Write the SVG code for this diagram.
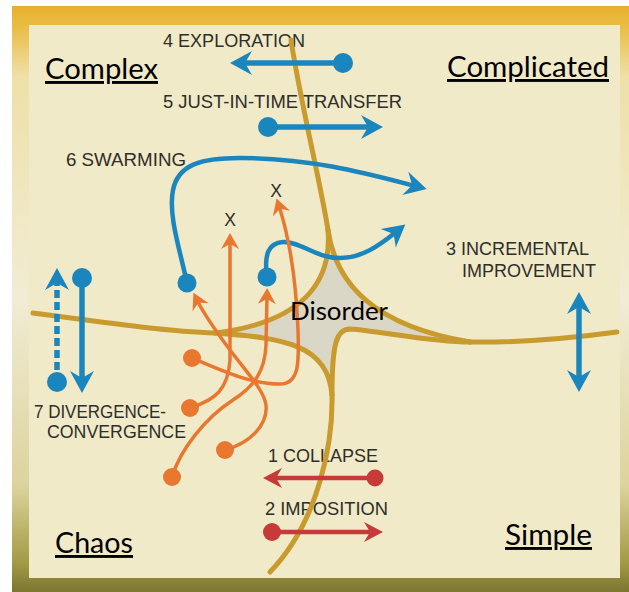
<svg xmlns="http://www.w3.org/2000/svg" width="629" height="592" viewBox="0 0 629 592">
  <style>
    .boundary { fill: none; stroke: #c99a2e; stroke-width: 5; stroke-linecap: round; }
    .blue { fill: none; stroke: #1b86bd; stroke-width: 5.5; }
    .blue-curve { fill: none; stroke: #1b86bd; stroke-width: 4.5; stroke-linecap: round; }
    .red { fill: none; stroke: #c73a3a; stroke-width: 4.5; }
    .orange { fill: none; stroke: #e8772f; stroke-width: 3.5; stroke-linecap: round; }
    .dot-blue { fill: #1b86bd; }
    .dot-red { fill: #c73a3a; }
    .dot-orange { fill: #e8772f; }
    .label { font-family: "Liberation Sans", Arial, sans-serif; font-size: 17.5px; fill: #2e2e2a; }
    .domain { font-family: Lato, "Open Sans", sans-serif; font-size: 29px; fill: #000; text-decoration: underline; }
    .center { font-family: Lato, "Open Sans", sans-serif; font-size: 25px; fill: #000; }
  </style>
  <defs>
    <linearGradient id="frameGrad" gradientUnits="userSpaceOnUse" x1="0" y1="6" x2="0" y2="592">
      <stop offset="0" stop-color="#e7b02c"/>
      <stop offset="0.035" stop-color="#eabc44"/>
      <stop offset="0.12" stop-color="#efe0a8"/>
      <stop offset="0.5" stop-color="#f1ecd4"/>
      <stop offset="0.82" stop-color="#dcd39c"/>
      <stop offset="0.95" stop-color="#a39a45"/>
      <stop offset="1" stop-color="#7b7631"/>
    </linearGradient>
    <marker id="headBlue" viewBox="-24 -13 26 26" refX="-12" refY="0" markerWidth="26" markerHeight="26" markerUnits="userSpaceOnUse" orient="auto-start-reverse">
      <path d="M0,0 L-22,-12 L-15,0 L-22,12 Z" fill="#1b86bd"/>
    </marker>
    <marker id="headRed" viewBox="-21 -11 23 22" refX="-10" refY="0" markerWidth="23" markerHeight="22" markerUnits="userSpaceOnUse" orient="auto">
      <path d="M0,0 L-19,-10 L-13,0 L-19,10 Z" fill="#c73a3a"/>
    </marker>
    <marker id="headOrange" viewBox="-18 -10 20 20" refX="-8" refY="0" markerWidth="20" markerHeight="20" markerUnits="userSpaceOnUse" orient="auto">
      <path d="M0,0 L-16,-9 L-11,0 L-16,9 Z" fill="#e8772f"/>
    </marker>
  </defs>

  <!-- frame and panel -->
  <g id="frame">
    <rect x="0" y="0" width="629" height="592" fill="#ffffff"/>
    <rect x="12" y="6" width="617" height="586" fill="url(#frameGrad)"/>
    <rect x="29" y="25" width="591" height="553" fill="#f0eac8"/>
  </g>

  <!-- small pattern labels -->
  <g id="labels">
    <text class="label" x="163" y="47" textLength="142" lengthAdjust="spacingAndGlyphs">4 EXPLORATION</text>
    <text class="label" x="163" y="108" textLength="239" lengthAdjust="spacingAndGlyphs">5 JUST-IN-TIME TRANSFER</text>
    <text class="label" x="66" y="166" textLength="120" lengthAdjust="spacingAndGlyphs">6 SWARMING</text>
    <text class="label" x="446" y="255" textLength="143" lengthAdjust="spacingAndGlyphs">3 INCREMENTAL</text>
    <text class="label" x="462" y="277" textLength="134" lengthAdjust="spacingAndGlyphs">IMPROVEMENT</text>
    <text class="label" x="34" y="418" textLength="132" lengthAdjust="spacingAndGlyphs">7 DIVERGENCE-</text>
    <text class="label" x="47" y="438" textLength="139" lengthAdjust="spacingAndGlyphs">CONVERGENCE</text>
    <text class="label" x="268" y="462" textLength="110" lengthAdjust="spacingAndGlyphs">1 COLLAPSE</text>
    <text class="label" x="265" y="515" textLength="123" lengthAdjust="spacingAndGlyphs">2 IMPOSITION</text>
    <text class="label" x="230" y="226" text-anchor="middle">X</text>
    <text class="label" x="276" y="197" text-anchor="middle">X</text>
  </g>

  <!-- domain boundaries and the central disorder region -->
  <g id="disorder-region">
    <path d="M328,230 C332,280 305,322 215,333 C285,338 328,345 332,395 C332,345 336,329 350,329 C380,331 430,342 470,342 C375,326 336,285 328,230 Z" fill="#dad7c6"/>
  </g>
  <g id="boundaries">
    <path class="boundary" d="M291,40 C300,100 320,180 328,230"/>
    <path class="boundary" d="M33,313 C100,322 170,332 215,333"/>
    <path class="boundary" d="M617,332 C580,337 530,343 470,342"/>
    <path class="boundary" d="M332,395 C333,440 320,520 270,572"/>
    <path class="boundary" d="M328,230 C332,280 305,322 215,333"/>
    <path class="boundary" d="M328,230 C336,285 375,326 470,342"/>
    <path class="boundary" d="M215,333 C285,338 328,345 332,395"/>
    <path class="boundary" d="M470,342 C430,342 380,331 350,329 C336,329 332,345 332,395"/>
  </g>

  <!-- movement patterns between domains -->
  <g id="connectors">
    <g id="p4-exploration">
      <line class="blue" x1="343" y1="63" x2="242" y2="63" marker-end="url(#headBlue)"/>
      <circle class="dot-blue" cx="343" cy="63" r="10"/>
    </g>
    <g id="p5-just-in-time-transfer">
      <line class="blue" x1="268" y1="127" x2="371" y2="127" marker-end="url(#headBlue)"/>
      <circle class="dot-blue" cx="268" cy="127" r="10"/>
    </g>
    <g id="p3-incremental-improvement">
      <line class="blue" x1="579" y1="304" x2="579" y2="380" marker-start="url(#headBlue)" marker-end="url(#headBlue)"/>
    </g>
    <g id="p7-divergence-convergence">
      <line class="blue" x1="57" y1="382" x2="57" y2="280" stroke-dasharray="8 4" marker-end="url(#headBlue)"/>
      <circle class="dot-blue" cx="57" cy="382" r="10"/>
      <line class="blue" x1="82" y1="278" x2="82" y2="381" marker-end="url(#headBlue)"/>
      <circle class="dot-blue" cx="82" cy="278" r="10"/>
    </g>
    <g id="p6-swarming">
      <path class="blue-curve" d="M187,283 C180,250 168,215 173,190 C178,165 200,158 240,158 C310,158 365,173 415,186" marker-end="url(#headBlue)"/>
      <path class="blue-curve" d="M267,277 C264,255 268,243 283,242 C300,241 315,258 340,258 C362,258 380,245 396,232" marker-end="url(#headBlue)"/>
      <circle class="dot-blue" cx="187" cy="283" r="9.5"/>
      <circle class="dot-blue" cx="267" cy="277" r="9.5"/>
      <path class="orange" d="M192,358 C220,370 250,384 280,384 C300,384 299,360 298,330 C296,280 290,240 279,206" marker-end="url(#headOrange)"/>
      <path class="orange" d="M190,408 C215,400 228,390 230,360 L230,241" marker-end="url(#headOrange)"/>
      <path class="orange" d="M225,450 C250,443 268,425 266,405 C264,390 245,370 230,350 C215,330 203,312 197,300" marker-end="url(#headOrange)"/>
      <path class="orange" d="M172,477 C180,450 205,418 233,400 C255,386 265,370 266,345 L267,296" marker-end="url(#headOrange)"/>
      <circle class="dot-orange" cx="192" cy="358" r="9"/>
      <circle class="dot-orange" cx="190" cy="408" r="9"/>
      <circle class="dot-orange" cx="225" cy="450" r="9"/>
      <circle class="dot-orange" cx="172" cy="477" r="9"/>
    </g>
    <g id="p1-collapse">
      <line class="red" x1="375" y1="478" x2="273" y2="478" marker-end="url(#headRed)"/>
      <circle class="dot-red" cx="375" cy="478" r="8.5"/>
    </g>
    <g id="p2-imposition">
      <line class="red" x1="272" y1="532" x2="373" y2="532" marker-end="url(#headRed)"/>
      <circle class="dot-red" cx="272" cy="532" r="9"/>
    </g>
  </g>

  <!-- domain names -->
  <g id="domain-complex"><text class="domain" x="45" y="79" textLength="113" lengthAdjust="spacingAndGlyphs">Complex</text></g>
  <g id="domain-complicated"><text class="domain" x="447" y="77" textLength="162" lengthAdjust="spacingAndGlyphs">Complicated</text></g>
  <g id="domain-chaos"><text class="domain" x="55" y="553" textLength="78" lengthAdjust="spacingAndGlyphs">Chaos</text></g>
  <g id="domain-simple"><text class="domain" x="505" y="545" textLength="87" lengthAdjust="spacingAndGlyphs">Simple</text></g>
  <g id="domain-disorder"><text class="center" x="290" y="320" textLength="98" lengthAdjust="spacingAndGlyphs">Disorder</text></g>
</svg>
